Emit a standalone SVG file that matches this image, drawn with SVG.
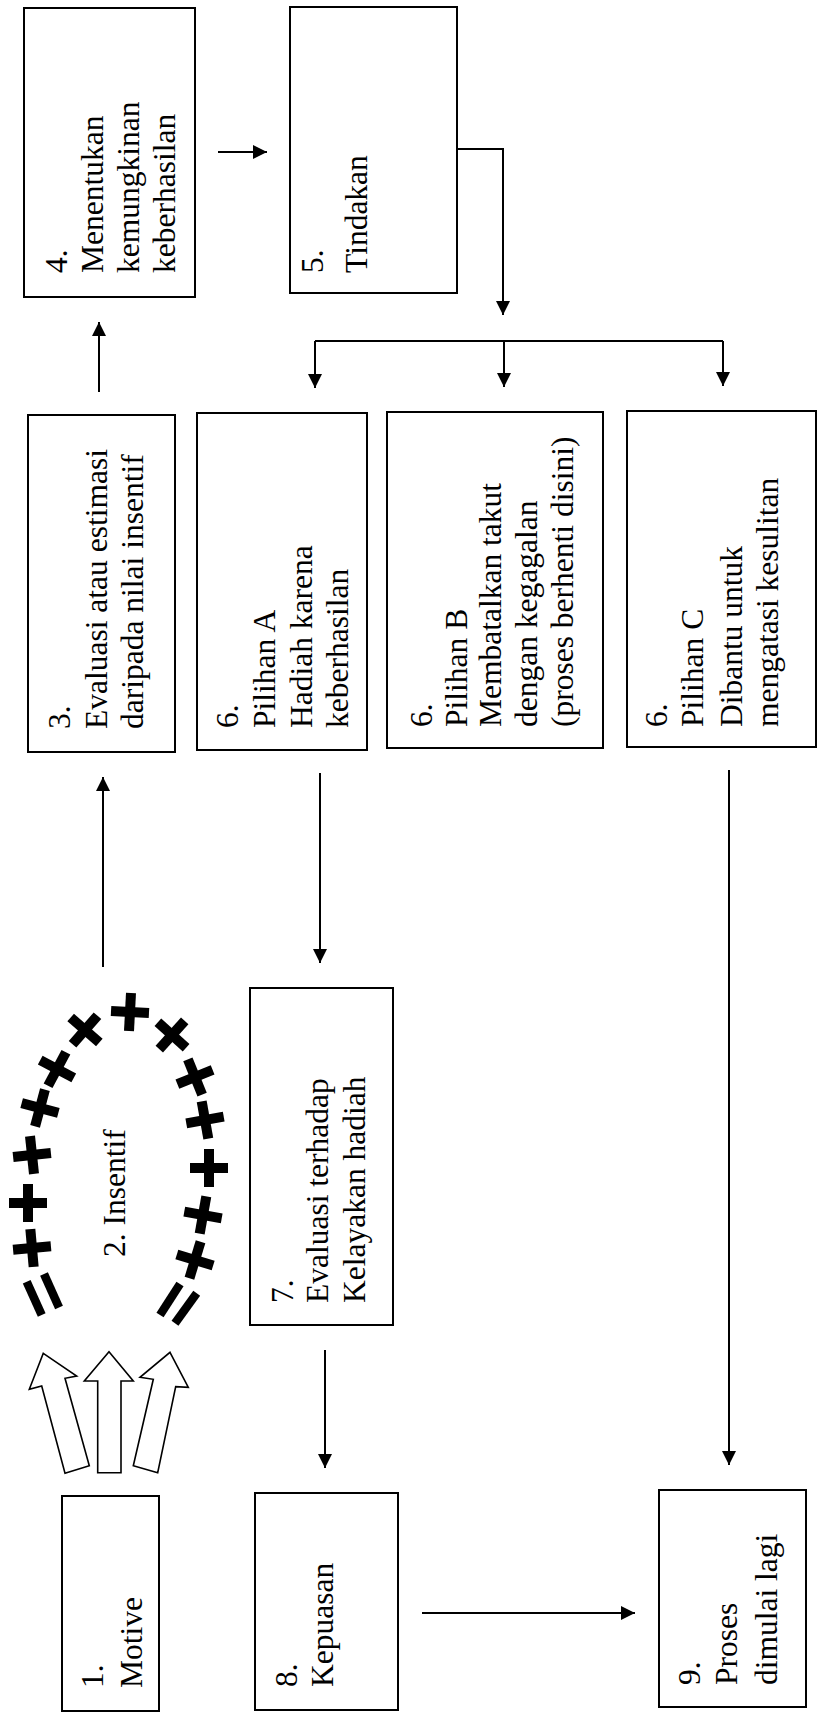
<svg xmlns="http://www.w3.org/2000/svg" width="818" height="1713" viewBox="0 0 818 1713">
  <style>
    .box { fill: #fff; stroke: #000; stroke-width: 2; }
    .lbl { font-family: "Liberation Serif", "Times New Roman", serif; font-size: 31.5px; fill: #000; }
    .conn { fill: none; stroke: #000; stroke-width: 2; }
    .hollow { fill: #fff; stroke: #000; stroke-width: 1.6; stroke-linejoin: miter; }
    .mark { stroke: #000; stroke-width: 10; stroke-linecap: butt; }
    .eq { stroke: #000; stroke-width: 8.5; stroke-linecap: butt; }
  </style>
  <defs>
    <marker id="head" viewBox="0 0 14 14" markerWidth="14" markerHeight="14" refX="14" refY="7" orient="auto" markerUnits="userSpaceOnUse">
      <path d="M0,0 L14,7 L0,14 z" fill="#000"/>
    </marker>
    <!-- bold cross used around the incentive ring -->
    <g id="cross">
      <line class="mark" x1="-19" y1="0" x2="19" y2="0"/>
      <line class="mark" x1="0" y1="-19" x2="0" y2="19"/>
    </g>
  </defs>
  <rect width="818" height="1713" fill="#fff"/>

  <!-- connectors -->
  <g id="connectors">
    <line class="conn" x1="99" y1="392" x2="99" y2="322" marker-end="url(#head)"/>
    <line class="conn" x1="218" y1="152" x2="267" y2="152" marker-end="url(#head)"/>
    <path class="conn" d="M457,149 H503 V315" marker-end="url(#head)"/>
    <line class="conn" x1="315" y1="341" x2="723" y2="341"/>
    <line class="conn" x1="315" y1="341" x2="315" y2="388" marker-end="url(#head)"/>
    <line class="conn" x1="504" y1="341" x2="504" y2="387" marker-end="url(#head)"/>
    <line class="conn" x1="723" y1="341" x2="723" y2="386" marker-end="url(#head)"/>
    <line class="conn" x1="103" y1="967" x2="103" y2="777" marker-end="url(#head)"/>
    <line class="conn" x1="320" y1="773" x2="320" y2="963" marker-end="url(#head)"/>
    <line class="conn" x1="325" y1="1350" x2="325" y2="1468" marker-end="url(#head)"/>
    <line class="conn" x1="729" y1="770" x2="729" y2="1465" marker-end="url(#head)"/>
    <line class="conn" x1="422" y1="1613" x2="635" y2="1613" marker-end="url(#head)"/>
    <!-- three hollow block arrows from the motive toward the incentive -->
    <polygon class="hollow" points="43.3,1353.3 76.7,1376 65,1378.3 89.3,1465.7 65,1473.3 41.7,1386 29.3,1389.3"/>
    <polygon class="hollow" points="109,1351.7 133.3,1381 121,1381 121,1472.7 97.7,1472.7 97.7,1381 84.3,1381"/>
    <polygon class="hollow" points="170,1352.3 188.3,1387.3 175.7,1386.7 157.7,1472.7 133.3,1465.7 153.3,1379.3 140,1377.3"/>
  </g>

  <!-- 4. Menentukan kemungkinan keberhasilan -->
  <g id="n4">
    <rect class="box" x="24" y="8" width="171" height="289"/>
    <text class="lbl" transform="translate(67,273) rotate(-90)"><tspan x="0" y="0">4.</tspan><tspan x="0" y="36">Menentukan</tspan><tspan x="0" y="72">kemungkinan</tspan><tspan x="0" y="108">keberhasilan</tspan></text>
  </g>

  <!-- 5. Tindakan -->
  <g id="n5">
    <rect class="box" x="290" y="7" width="167" height="286"/>
    <text class="lbl" transform="translate(323,273) rotate(-90)"><tspan x="0" y="0">5.</tspan><tspan x="0" y="44">Tindakan</tspan></text>
  </g>

  <!-- 3. Evaluasi -->
  <g id="n3">
    <rect class="box" x="28" y="415" width="147" height="337"/>
    <text class="lbl" transform="translate(70,729) rotate(-90)"><tspan x="0" y="0">3.</tspan><tspan x="0" y="37">Evaluasi atau estimasi</tspan><tspan x="0" y="73">daripada nilai insentif</tspan></text>
  </g>

  <!-- 6. Pilihan A -->
  <g id="n6a">
    <rect class="box" x="197" y="413" width="170" height="337"/>
    <text class="lbl" transform="translate(238,728) rotate(-90)"><tspan x="0" y="0">6.</tspan><tspan x="0" y="37">Pilihan A</tspan><tspan x="0" y="74">Hadiah karena</tspan><tspan x="0" y="110">keberhasilan</tspan></text>
  </g>

  <!-- 6. Pilihan B -->
  <g id="n6b">
    <rect class="box" x="387" y="412" width="216" height="336"/>
    <text class="lbl" transform="translate(432,727) rotate(-90)"><tspan x="0" y="0">6.</tspan><tspan x="0" y="35">Pilihan B</tspan><tspan x="0" y="69">Membatalkan takut</tspan><tspan x="0" y="105">dengan kegagalan</tspan><tspan x="0" y="141">(proses berhenti disini)</tspan></text>
  </g>

  <!-- 6. Pilihan C -->
  <g id="n6c">
    <rect class="box" x="627" y="411" width="189" height="336"/>
    <text class="lbl" transform="translate(667,727) rotate(-90)"><tspan x="0" y="0">6.</tspan><tspan x="0" y="36">Pilihan C</tspan><tspan x="0" y="75">Dibantu untuk</tspan><tspan x="0" y="111">mengatasi kesulitan</tspan></text>
  </g>

  <!-- 2. Insentif: ring of crosses -->
  <g id="n2">
    <use href="#cross" transform="translate(130,1012) rotate(3)"/>
    <use href="#cross" transform="translate(85,1030) rotate(41)"/>
    <use href="#cross" transform="translate(57,1069) rotate(28)"/>
    <use href="#cross" transform="translate(40,1108) rotate(15)"/>
    <use href="#cross" transform="translate(32,1155) rotate(-6)"/>
    <use href="#cross" transform="translate(28,1203) rotate(0)"/>
    <use href="#cross" transform="translate(32,1248) rotate(-5)"/>
    <use href="#cross" transform="translate(172,1035) rotate(42)"/>
    <use href="#cross" transform="translate(195,1077) rotate(-22)"/>
    <use href="#cross" transform="translate(205,1120) rotate(-10)"/>
    <use href="#cross" transform="translate(209,1168) rotate(0)"/>
    <use href="#cross" transform="translate(203,1215) rotate(10)"/>
    <use href="#cross" transform="translate(195,1260) rotate(17)"/>
    <line class="eq" x1="26.7" y1="1281.7" x2="41.7" y2="1315"/>
    <line class="eq" x1="44" y1="1274" x2="59" y2="1307.5"/>
    <line class="eq" x1="160" y1="1315" x2="180" y2="1284"/>
    <line class="eq" x1="175" y1="1323.3" x2="196.7" y2="1293.3"/>
    <text class="lbl" transform="translate(125,1257) rotate(-90)">2. Insentif</text>
  </g>

  <!-- 7. Evaluasi terhadap Kelayakan hadiah -->
  <g id="n7">
    <rect class="box" x="250" y="988" width="143" height="337"/>
    <text class="lbl" transform="translate(293,1303) rotate(-90)"><tspan x="0" y="0">7.</tspan><tspan x="0" y="35">Evaluasi terhadap</tspan><tspan x="0" y="72">Kelayakan hadiah</tspan></text>
  </g>

  <!-- 1. Motive -->
  <g id="n1">
    <rect class="box" x="62" y="1496" width="97" height="215"/>
    <text class="lbl" transform="translate(103,1688) rotate(-90)"><tspan x="0" y="0">1.</tspan><tspan x="0" y="39">Motive</tspan></text>
  </g>

  <!-- 8. Kepuasan -->
  <g id="n8">
    <rect class="box" x="255" y="1493" width="143" height="217"/>
    <text class="lbl" transform="translate(297,1687) rotate(-90)"><tspan x="0" y="0">8.</tspan><tspan x="0" y="36">Kepuasan</tspan></text>
  </g>

  <!-- 9. Proses dimulai lagi -->
  <g id="n9">
    <rect class="box" x="659" y="1490" width="147" height="217"/>
    <text class="lbl" transform="translate(700,1685) rotate(-90)"><tspan x="0" y="0">9.</tspan><tspan x="0" y="37">Proses</tspan><tspan x="0" y="77">dimulai lagi</tspan></text>
  </g>
</svg>
